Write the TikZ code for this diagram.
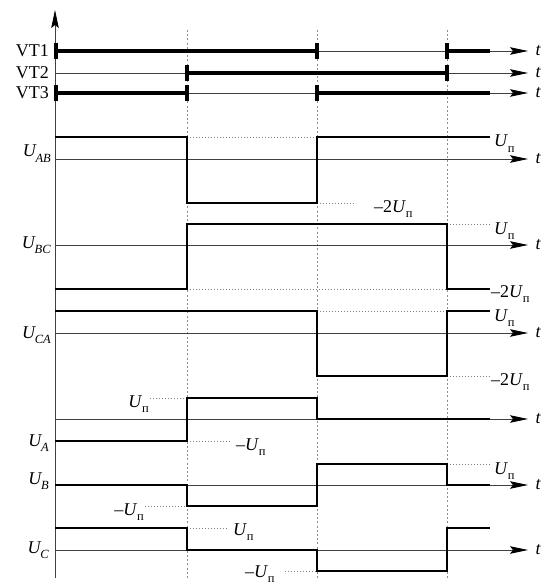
\documentclass[tikz,border=0pt]{standalone}
\usepackage{fontspec}
\setmainfont{Liberation Serif}
\usetikzlibrary{arrows.meta}
\newcommand\Un{\textit{U}\kern-0.3pt\raisebox{-0.28em}{\fontsize{12.5}{13}\selectfont п}}
\newcommand\Us[1]{\textit{U}\kern-1.2pt\raisebox{-0.28em}{\fontsize{12.5}{13}\selectfont\textit{#1}}}
\begin{document}
\begin{tikzpicture}[x=1pt,y=-1pt,
  ax/.style={line width=0.8pt, draw=black!75, -{Stealth[length=18pt,width=7.5pt,inset=3pt,color=black]}},
  wave/.style={line width=2.2pt, line join=miter, line cap=butt},
  vt/.style={line width=4pt},
  vtick/.style={line width=3.6pt},
  vgrid/.style={draw=black!45, line width=0.7pt, dash pattern=on 2pt off 2.2pt},
  lvl/.style={draw=black!50, line width=0.6pt, dash pattern=on 1.2pt off 1.8pt},
  lab/.style={font=\fontsize{18}{20}\selectfont, inner sep=0pt},
  tl/.style={font=\fontsize{18}{20}\selectfont\itshape, inner sep=0pt}
]
\useasboundingbox (0,0) rectangle (543,585);
\fill[white] (0,0) rectangle (543,585);

% vertical dotted time marks
\foreach \x/\n in {187/a,317/b,447/c}
  \draw[vgrid] (\x,30) -- (\x,578);

% vertical axis
\coordinate (o0) at (55,578);
\coordinate (o1) at (55,10);
\draw[ax] (o0) -- (o1);

% horizontal axes with t
\foreach \y/\n in {51/1,73/2,93/3,159/4,245/5,333/6,419/7,485/8,550/9}{
  \coordinate (s\n) at (55,\y);
  \coordinate (e\n) at (528,\y);
  \draw[ax] (s\n) -- (e\n);
  \node[tl] (t\n) at (538,\y) {t};
}

% VT conduction bars
\draw[vt] (55,51) -- (317,51);
\draw[vt] (447,51) -- (490,51);
\draw[vt] (187,73) -- (447,73);
\draw[vt] (55,93) -- (187,93);
\draw[vt] (317,93) -- (490,93);
\foreach \x/\y in {56/51,317/51,447/51,187/73,447/73,56/93,187/93,317/93}
  \draw[vtick] (\x,\y-8) -- (\x,\y+8);

% left labels
\node[lab,anchor=east] (vt1) at (49,51) {VT1};
\node[lab,anchor=east] (vt2) at (49,73) {VT2};
\node[lab,anchor=east] (vt3) at (49,93) {VT3};
\node[lab,anchor=base east] (lab) at (51,157) {\Us{AB}};
\node[lab,anchor=base east] (lbc) at (51,248) {\Us{BC}};
\node[lab,anchor=base east] (lca) at (51,338) {\Us{CA}};
\node[lab,anchor=base east] (la) at (49,446) {\Us{A}};
\node[lab,anchor=base east] (lb) at (49,484) {\Us{B}};
\node[lab,anchor=base east] (lc) at (49,553) {\Us{C}};

% U_AB
\draw[lvl] (187,137) -- (317,137);
\draw[lvl] (317,203) -- (355,203);
\draw[wave] (55,137) -| (187,203) -| (317,137) -- (490,137);
\node[lab,anchor=base west] (ab1) at (494,147) {\Un};
\node[lab,anchor=base west] (ab2) at (374,212) {–2\Un};

% U_BC
\draw[lvl] (187,289) -- (447,289);
\draw[lvl] (447,224) -- (490,224);
\draw[wave] (55,289) -| (187,224) -| (447,289) -- (490,289);
\node[lab,anchor=base west] (bc1) at (494,234) {\Un};
\node[lab,anchor=base west] (bc2) at (491,297) {–2\Un};

% U_CA
\draw[lvl] (317,311) -- (447,311);
\draw[lvl] (447,376) -- (490,376);
\draw[wave] (55,311) -| (317,376) -| (447,311) -- (490,311);
\node[lab,anchor=base west] (ca1) at (494,321) {\Un};
\node[lab,anchor=base west] (ca2) at (491,385) {–2\Un};

% U_A
\draw[lvl] (150,398) -- (187,398);
\draw[lvl] (187,441) -- (230,441);
\draw[wave] (55,441) -| (187,398) -| (317,419) -- (490,419);
\node[lab,anchor=base east] (a1) at (149,407) {\Un};
\node[lab,anchor=base west] (a2) at (236,450) {–\Un};

% U_B
\draw[lvl] (145,506) -- (187,506);
\draw[lvl] (447,464) -- (490,464);
\draw[wave] (55,485) -| (187,506) -| (317,464) -| (447,485) -- (490,485);
\node[lab,anchor=base east] (b1) at (144,515) {–\Un};
\node[lab,anchor=base west] (b2) at (494,474) {\Un};

% U_C
\draw[lvl] (187,528) -- (228,528);
\draw[lvl] (285,571) -- (317,571);
\draw[wave] (55,528) -| (187,550) -| (317,571) -| (447,528) -- (490,528);
\node[lab,anchor=base west] (c1) at (233,535) {\Un};
\node[lab,anchor=base west] (c2) at (245,577) {–\Un};
\end{tikzpicture}
\end{document}
